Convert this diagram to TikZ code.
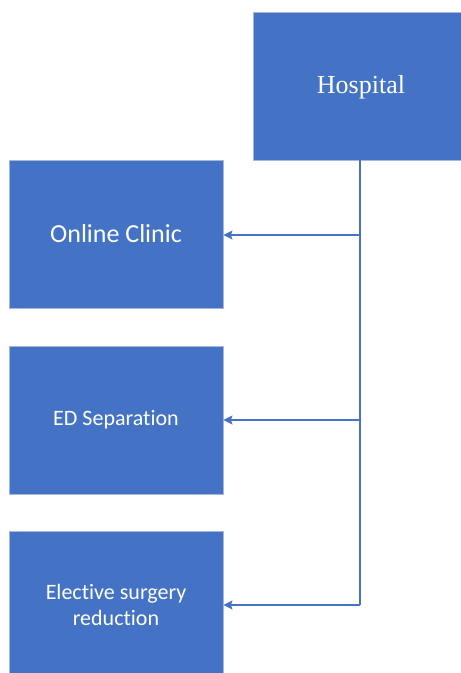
\documentclass[tikz,border=0pt]{standalone}
\usepackage{fontspec}
\setmainfont{Liberation Serif}
\newfontfamily\boxfont[Ligatures=NoCommon]{Carlito}
\usetikzlibrary{arrows.meta}
\definecolor{boxblue}{HTML}{4472C4}
\definecolor{boxedge}{HTML}{A7B7D9}
\tikzset{
  unit/.style={draw=boxedge, line width=0.8pt, fill=boxblue, text=white,
    inner sep=0pt, align=center},
  link/.style={draw=boxblue, line width=1.5pt},
  feed/.style={link, -{Stealth[length=9pt, width=9pt, inset=1.5pt]}},
}
\begin{document}
\begin{tikzpicture}[x=1pt, y=-1pt]
  \useasboundingbox (0,0) rectangle (461,673);
  % top-level box
  \node[unit, minimum width=208pt, minimum height=148pt] (hosp) at (357,86) {};
  \node[text=white, font=\fontsize{26}{30}\selectfont] (hosplabel) at (361,87) {Hospital};
  % service boxes
  \node[unit, minimum width=214pt, minimum height=148pt,
        font=\boxfont\fontsize{26}{31}\selectfont] (clinic) at (116,234) {Online Clinic};
  \node[unit, minimum width=214pt, minimum height=148pt,
        font=\boxfont\fontsize{22}{26}\selectfont] (ed) at (116,420) {ED Separation};
  \node[unit, minimum width=214pt, minimum height=148pt,
        font=\boxfont\fontsize{22}{25.5}\selectfont] (elect) at (116,605) {Elective surgery\\reduction};
  % trunk and branches
  \coordinate (top) at (360,160);
  \coordinate (j1) at (360,235);
  \coordinate (j2) at (360,420);
  \coordinate (j3) at (360,605);
  \draw[link] (top) -- (j3);
  \draw[feed] (j1) -- (clinic.east |- j1);
  \draw[feed] (j2) -- (ed.east |- j2);
  \draw[feed] (j3) -- (elect.east |- j3);
\end{tikzpicture}
\end{document}
